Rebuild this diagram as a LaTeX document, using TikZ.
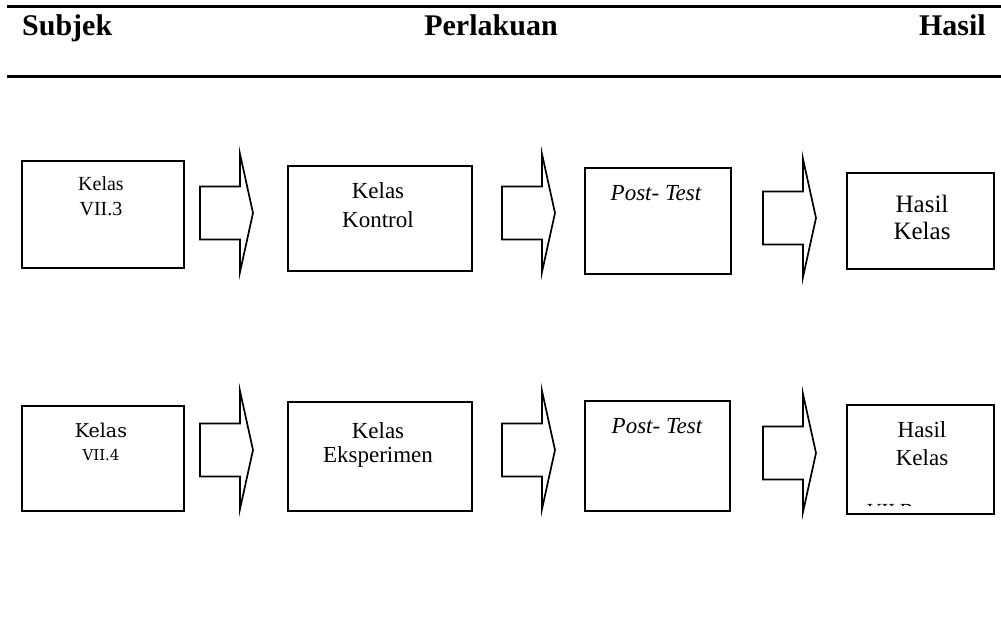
\documentclass[tikz,border=0pt]{standalone}
\usepackage{fontspec}
\setmainfont{Liberation Serif}
\newfontfamily\bukufont{DejaVu Serif}
\usetikzlibrary{calc}

\begin{document}
\begin{tikzpicture}[x=1pt, y=-1pt,
  garis/.style={line width=1.7pt, line join=miter},
  kotak/.style={draw, line width=1.8pt, anchor=north west, inner sep=0pt},
  teks/.style={align=center, inner sep=0pt, anchor=base},
  judul/.style={font=\fontsize{30}{32}\selectfont\bfseries, inner sep=0pt, anchor=base},
  panah/.pic={\draw[garis] (0,-26.5) -- (40,-26.5) -- (40,-59) -- (53,0) -- (40,59) -- (40,26.5) -- (0,26.5) -- cycle;}]
  \useasboundingbox (0,0) rectangle (1001,619);

  % kepala tabel
  \draw[line width=3pt] (7,6) -- (1001,6);
  \draw[line width=3pt] (7,76) -- (1001,76);
  \node[judul, anchor=base west] (subjek) at (22,35) {Subjek};
  \node[judul] (perlakuan) at (491,35) {Perlakuan};
  \node[judul, anchor=base east] (hasil) at (986,35) {Hasil};

  % kelas kontrol
  \node[kotak, minimum width=162pt, minimum height=107pt] (vii3) at (21,160) {};
  \node[kotak, minimum width=184pt, minimum height=105pt] (kontrol) at (287,165) {};
  \node[kotak, minimum width=146pt, minimum height=106pt] (post1) at (584,167) {};
  \node[kotak, minimum width=147pt, minimum height=96pt] (hasil1) at (846,172) {};

  \node[teks, font=\fontsize{20}{25}\selectfont] (vii3-t) at (101,215) {Kelas\\VII.3};
  \node[teks, font=\fontsize{23}{29}\selectfont] (kontrol-t) at (378,227) {Kelas\\Kontrol};
  \node[teks, font=\fontsize{23}{25}\selectfont\itshape] (post1-t) at (656,200) {Post- Test};
  \node[teks, font=\fontsize{25}{27}\selectfont] (hasil1-t) at (922,239) {Hasil\\Kelas};

  % kelas eksperimen
  \node[kotak, minimum width=162pt, minimum height=105pt] (vii4) at (21,405) {};
  \node[kotak, minimum width=184pt, minimum height=109pt] (eksperimen) at (287,401) {};
  \node[kotak, minimum width=145pt, minimum height=110pt] (post2) at (584,400) {};
  \node[kotak, minimum width=147pt, minimum height=109pt] (hasil2) at (846,404) {};

  \node[teks, font=\bukufont\fontsize{19}{23}\selectfont] (vii4-t) at (101,460) {Kelas\\{\fontsize{15}{18}\selectfont VII.4}};
  \node[teks, font=\fontsize{23}{24}\selectfont] (eksperimen-t) at (378,462) {Kelas\\Eksperimen};
  \node[teks, font=\fontsize{23}{25}\selectfont\itshape] (post2-t) at (657,433) {Post- Test};
  \node[teks, font=\fontsize{23}{28}\selectfont] (hasil2-t) at (922,465) {Hasil\\Kelas};
  \begin{scope}
    \clip (848,500) rectangle (991,505);
    \node[teks, anchor=base west, font=\fontsize{20}{22}\selectfont] (hasil2-s) at (867,517) {VII.B};
  \end{scope}

  % panah blok
  \foreach \x/\y in {200/213, 502/213, 763/218, 200/450, 502/450, 763/453}
    \pic at (\x,\y) {panah};
\end{tikzpicture}
\end{document}
